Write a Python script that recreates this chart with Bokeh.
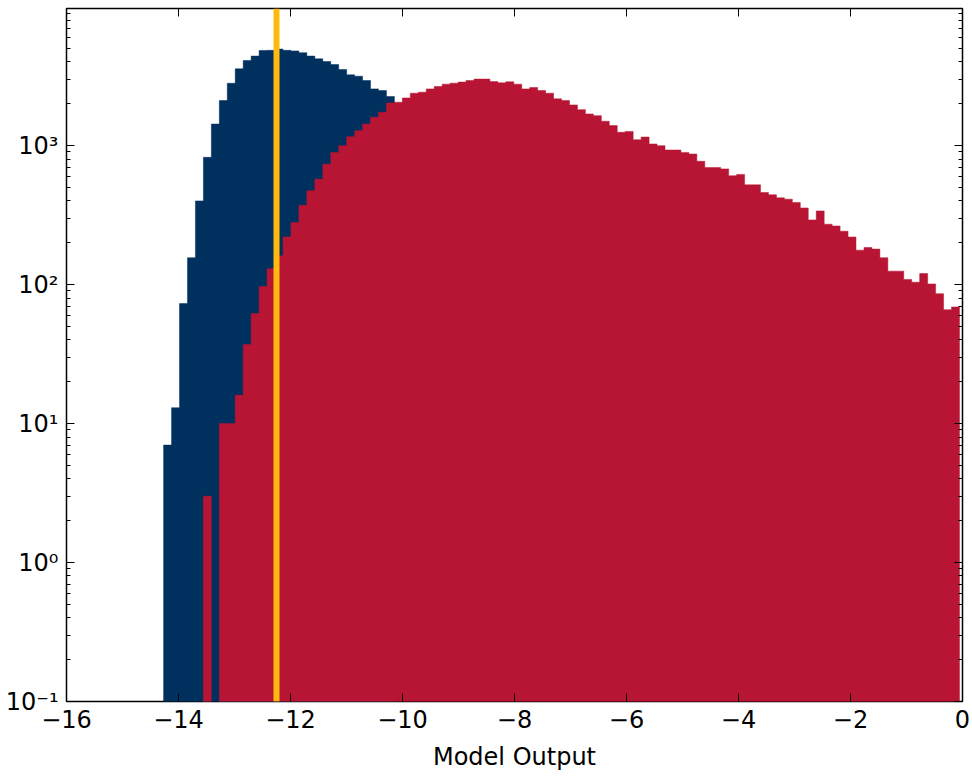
import numpy as np
from bokeh.plotting import figure
from bokeh.models import (FixedTicker, LinearAxis, LogAxis,
                          CustomJSTickFormatter, Span)
from bokeh.embed import file_html
from bokeh.resources import INLINE

# Shared histogram binning (100 equal bins over the model-output range)
bin_min = -14.266
bin_max = -0.054
n_bins = 100

# Counts per bin, starting at the first bin
background_counts = [
    7, 13, 73, 156, 400, 824, 1430, 2110, 2810, 3570,
    4100, 4410, 4840, 4850, 4950, 4850, 4800, 4660, 4410, 4215,
    4030, 3835, 3530, 3230, 3160, 2940, 2560, 2490, 2255,
]

signal_counts = [
    0, 0, 0, 0, 0, 3, 0, 10, 10, 16,
    37, 62, 97, 130, 161, 220, 280, 373, 473, 574,
    736, 894, 1000, 1160, 1282, 1432, 1600, 1739, 2030, 2053,
    2205, 2383, 2425, 2560, 2660, 2770, 2814, 2864, 2940, 3010,
    3010, 2890, 2830, 2880, 2770, 2560, 2618, 2490, 2383, 2170,
    2109, 1963, 1815, 1690, 1644, 1497, 1393, 1247, 1265, 1104,
    1153, 1028, 1000, 930, 930, 894, 870, 771, 697, 697,
    680, 607, 621, 522, 522, 460, 443, 421, 412, 390,
    356, 292, 339, 272, 264, 242, 220, 177, 185, 180,
    156, 125, 125, 109, 104, 120, 101, 86, 66, 69,
]

threshold = -12.25

x_ticks = [-16, -14, -12, -10, -8, -6, -4, -2, 0]
y_ticks = [0.1, 1, 10, 100, 1000]

BLUE = "#00305E"
RED = "#B81434"
GOLD = "#FFB90F"
FONT = "DejaVu Sans"

edges = np.linspace(bin_min, bin_max, n_bins + 1)
FLOOR = 0.01  # below the visible range on the log axis


def step_outline(counts):
    """Closed stepped outline of a filled histogram."""
    c = np.asarray(counts, dtype=float)
    c = np.where(c > 0, c, FLOOR)
    n = len(c)
    e = edges[:n + 1]
    xs = np.concatenate([[e[0]], np.repeat(e, 2)[1:-1], [e[-1]]])
    ys = np.concatenate([[FLOOR], np.repeat(c, 2), [FLOOR]])
    return xs, ys


p = figure(
    width=972, height=777,
    x_range=(-16, 0), y_range=(0.1, 9700),
    y_axis_type="log",
    output_backend="svg", toolbar_location=None,
    min_border_left=66, min_border_right=10,
    min_border_top=8, min_border_bottom=76,
)
p.xgrid.visible = False
p.ygrid.visible = False
p.outline_line_color = "black"
p.outline_line_width = 1.5
p.background_fill_color = "white"
p.border_fill_color = "white"

bx, by = step_outline(background_counts)
p.patch(bx, by, fill_color=BLUE, line_color=BLUE, line_width=0.5)
rx, ry = step_outline(signal_counts)
p.patch(rx, ry, fill_color=RED, line_color=RED, line_width=0.5)

p.add_layout(Span(location=threshold, dimension="height",
                  line_color=GOLD, line_width=6))

# minor log ticks at 2..9 of every decade
minor = [m * 10.0 ** e for e in range(-1, 4) for m in range(2, 10)]
y_ticker = FixedTicker(ticks=y_ticks, minor_ticks=minor)
x_ticker = FixedTicker(ticks=x_ticks, minor_ticks=[])

sup_formatter = CustomJSTickFormatter(code="""
    const sup = {"-": "\u207b", "0": "\u2070", "1": "\u00b9", "2": "\u00b2",
                 "3": "\u00b3", "4": "\u2074", "5": "\u2075", "6": "\u2076",
                 "7": "\u2077", "8": "\u2078", "9": "\u2079"};
    const e = Math.round(Math.log10(tick));
    return "10" + String(e).split("").map(c => sup[c]).join("");
""")
blank_formatter = CustomJSTickFormatter(code="return '';")


def style_axis(ax):
    ax.axis_line_color = None
    ax.major_tick_in = 8
    ax.major_tick_out = 0
    ax.minor_tick_in = 4
    ax.minor_tick_out = 0
    ax.major_tick_line_color = "black"
    ax.minor_tick_line_color = "black"
    ax.major_tick_line_width = 1
    ax.minor_tick_line_width = 1
    ax.major_label_text_font = FONT
    ax.major_label_text_font_size = "24px"
    ax.major_label_text_color = "black"


xa = p.xaxis[0]
style_axis(xa)
xa.ticker = x_ticker
xa.major_label_overrides = {t: str(t).replace("-", "\u2212") for t in x_ticks}
xa.major_label_standoff = 8
xa.axis_label = "Model Output"
xa.axis_label_text_font = FONT
xa.axis_label_text_font_size = "24px"
xa.axis_label_text_font_style = "normal"
xa.axis_label_text_color = "black"
xa.axis_label_standoff = 12

ya = p.yaxis[0]
style_axis(ya)
ya.ticker = y_ticker
ya.formatter = sup_formatter
ya.major_label_standoff = 8

# tick marks on the top and right edges, without labels
top_ax = LinearAxis(ticker=x_ticker, formatter=blank_formatter)
style_axis(top_ax)
top_ax.major_label_standoff = 0
p.add_layout(top_ax, "above")

right_ax = LogAxis(ticker=y_ticker, formatter=blank_formatter)
style_axis(right_ax)
right_ax.major_label_standoff = 0
p.add_layout(right_ax, "right")

open("out.html", "w").write(file_html(p, INLINE))
